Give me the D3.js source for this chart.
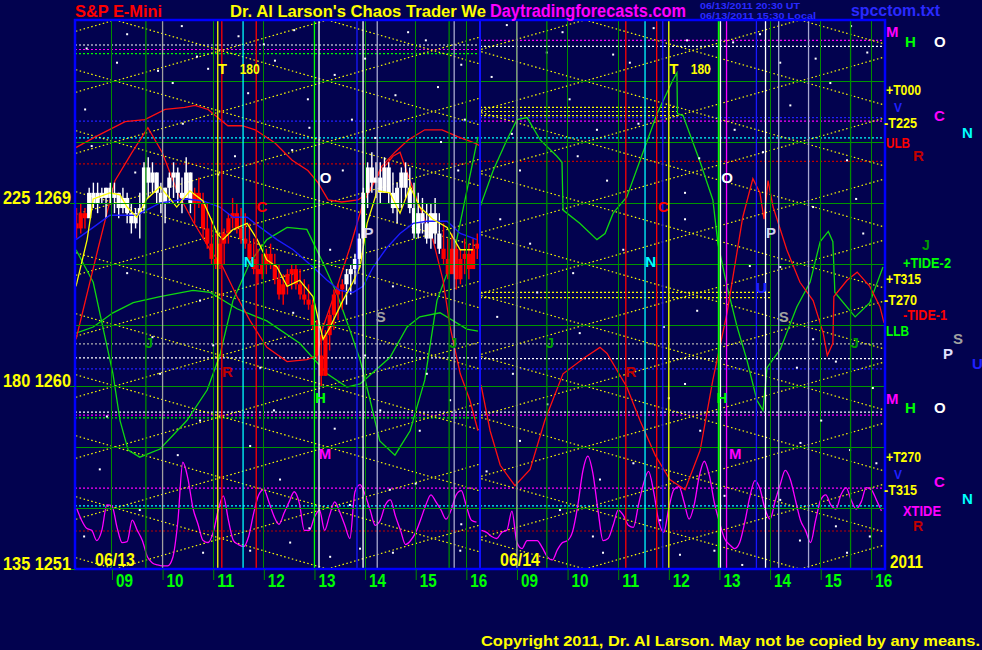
<!DOCTYPE html>
<html><head><meta charset="utf-8">
<script src="https://cdn.jsdelivr.net/npm/d3@7"></script>
<style>html,body{margin:0;padding:0;background:#02024f;overflow:hidden}svg{display:block}</style>
</head><body><svg id="c" width="982" height="650"></svg>
<script>
// ---------------- DATA ----------------
const dayLabels = ["06/13", "06/14"];
const SESSION_OPEN = 8.27, SESSION_CLOSE = 16.27, HOURS_PER_DAY = 8;
const hourTicks = [9, 10, 11, 12, 13, 14, 15, 16];
const hourTickLabels = ["09", "10", "11", "12", "13", "14", "15", "16"];
const priceTicks = [1269, 1260, 1251];
const degreeTicks = [225, 180, 135];
const gridPrices = [1254, 1257, 1260, 1263, 1266, 1269, 1272, 1275];
const latticeRows = [1251, 1254, 1257, 1260, 1263, 1266, 1269, 1272, 1275, 1278];
const latticeCols = [[4.87, 9.06, 13.25, 17.44], [6.09, 10.34, 14.59, 18.84]];

// 5-minute bars, day 1
const barStart = 8.30, barStep = 1 / 12;
const barHigh = [1268.75,1269.0,1268.75,1269.75,1270.0,1270.0,1269.75,1269.75,1270.0,1270.0,
 1269.5,1269.75,1269.5,1269.0,1268.75,1269.5,1271.0,1271.25,1271.0,1270.5,
 1270.0,1269.75,1270.5,1271.0,1270.75,1270.25,1271.25,1270.5,1269.75,1270.25,
 1269.5,1269.0,1268.25,1267.5,1267.25,1267.75,1268.5,1269.25,1269.0,1268.75,
 1268.5,1268.0,1267.25,1266.75,1266.5,1266.75,1267.0,1266.5,1266.0,1265.5,
 1265.75,1266.0,1266.0,1265.75,1265.25,1265.0,1264.25,1263.25,1262.5,1262.75,
 1263.75,1264.75,1265.0,1265.25,1265.75,1266.0,1266.5,1267.5,1269.75,1271.0,
 1271.5,1271.0,1271.0,1271.25,1271.0,1270.5,1270.0,1270.75,1271.0,1270.75,
 1270.0,1269.5,1269.25,1269.0,1269.0,1269.25,1268.5,1268.0,1267.25,1267.5,
 1267.0,1266.75,1267.25,1267.0,1267.25,1267.5];
const barLow = [1267.25,1267.5,1267.75,1268.5,1268.75,1268.5,1269.0,1268.25,1269.0,1268.5,
 1268.25,1268.5,1268.0,1267.5,1267.75,1267.25,1268.5,1269.25,1269.5,1269.0,
 1268.5,1268.0,1269.0,1269.25,1269.0,1268.5,1269.25,1268.5,1268.0,1268.75,
 1267.25,1266.75,1266.0,1265.75,1265.75,1266.0,1267.0,1267.75,1267.5,1267.0,
 1266.75,1266.0,1265.5,1265.0,1265.25,1265.5,1265.75,1265.0,1264.25,1264.0,
 1264.5,1264.75,1264.75,1264.25,1264.0,1263.75,1262.75,1261.25,1260.0,1260.5,
 1261.75,1262.75,1263.25,1263.75,1264.0,1264.5,1265.0,1265.75,1267.0,1268.75,
 1269.5,1269.25,1269.0,1269.5,1269.0,1268.5,1268.0,1268.75,1269.25,1268.5,
 1267.25,1267.25,1267.5,1267.0,1266.75,1267.0,1266.5,1266.0,1265.25,1265.75,
 1264.75,1265.0,1265.5,1265.25,1266.0,1266.25];
const barClose = [1267.75,1268.5,1268.25,1269.5,1269.0,1269.5,1269.25,1269.75,1269.25,1269.5,
 1268.75,1269.25,1268.5,1268.0,1268.5,1268.75,1270.75,1270.0,1270.5,1269.5,
 1269.0,1269.75,1270.25,1270.5,1269.5,1269.25,1270.5,1269.0,1269.5,1269.0,
 1267.75,1267.0,1266.25,1266.0,1267.0,1267.5,1268.25,1268.5,1267.75,1267.25,
 1267.0,1266.25,1265.75,1265.5,1266.0,1266.5,1266.0,1265.25,1264.5,1265.0,
 1265.5,1265.75,1265.0,1264.5,1264.25,1264.0,1263.0,1261.5,1260.5,1262.5,
 1263.5,1264.5,1264.75,1265.0,1265.5,1265.75,1266.25,1267.25,1269.5,1270.75,
 1270.0,1270.25,1269.5,1270.75,1269.5,1268.75,1269.75,1270.5,1269.75,1268.75,
 1267.5,1268.5,1268.0,1267.25,1268.5,1267.5,1266.75,1266.25,1265.5,1266.75,
 1265.25,1266.25,1266.5,1265.75,1266.75,1267.0];
const barOpen0 = 1268.0;
const barTrend = "rrrwwwwwwwwwwwwwwwwwwwwwwwwwrrrrrrrrrrrrrrrrrrrrrrrrrrrrrrrrrrrrwwwwwwwwwwwwwwwwwwwwwwwrrrrrrrrr";

// day 1 indicators [hour, price]
const fastLine = [[8.29,1264.9],[8.51,1267.2],[8.63,1269.2],[8.96,1269.5],[9.16,1269.4],[9.30,1268.8],[9.49,1268.3],[9.69,1269.2],[9.95,1269.8],[10.15,1269.2],[10.28,1268.8],[10.54,1269.6],[10.80,1269.1],[11.08,1267.5],[11.19,1267.2],[11.39,1267.7],[11.67,1268.0],[11.87,1267.2],[12.06,1266.2],[12.26,1265.85],[12.46,1264.9],[12.71,1265.2],[12.97,1264.4],[13.17,1262.3],[13.31,1262.9],[13.56,1264.2],[13.76,1265.1],[13.90,1265.85],[14.04,1268.0],[14.24,1269.6],[14.49,1269.5],[14.69,1268.5],[14.89,1269.8],[15.08,1268.8],[15.34,1268.2],[15.62,1267.8],[15.88,1266.7],[16.13,1266.7]];
const slowLine = [[8.29,1267.2],[8.63,1267.8],[8.96,1268.4],[9.49,1268.4],[9.95,1269.0],[10.48,1269.2],[10.80,1269.1],[11.13,1268.8],[11.39,1268.3],[11.67,1268.3],[11.93,1267.8],[12.26,1267.2],[12.58,1266.7],[12.97,1265.85],[13.25,1265.2],[13.50,1264.7],[13.76,1264.6],[13.96,1264.9],[14.16,1265.85],[14.43,1266.8],[14.69,1267.5],[14.95,1268.0],[15.22,1268.1],[15.62,1268.1],[15.88,1267.5],[16.21,1267.2]];

// forecast curves
const redUpper1 = [[8.27,1271.7],[8.67,1272.25],[9.26,1273.0],[9.65,1273.1],[10.05,1273.6],[10.44,1273.7],[10.64,1273.8],[10.90,1273.6],[11.09,1273.2],[11.29,1272.8],[11.57,1272.8],[11.83,1272.6],[12.22,1271.95],[12.56,1271.1],[12.87,1270.6],[13.07,1270.0],[13.27,1269.15],[13.54,1269.05],[13.86,1269.15],[14.06,1269.5],[14.33,1270.8],[14.59,1271.5],[14.85,1272.1],[15.18,1272.6],[15.52,1272.6],[15.84,1272.25],[16.17,1271.95],[16.27,1271.8]];
const redSwing1 = [[8.29,1262.3],[8.72,1266.7],[9.06,1270.1],[9.40,1271.5],[9.71,1272.7],[9.99,1271.5],[10.30,1269.5],[10.60,1268.1],[10.94,1266.7],[11.19,1265.85],[11.47,1264.4],[11.73,1263.2],[12.06,1261.9],[12.46,1261.2],[12.85,1261.3],[13.05,1261.5],[13.17,1262.9],[13.45,1264.9],[13.70,1266.8],[13.96,1269.0],[14.29,1270.5],[14.55,1271.3],[14.69,1271.5],[14.83,1270.5],[15.08,1268.8],[15.34,1267.2],[15.54,1265.2],[15.68,1262.9],[15.88,1260.6],[16.07,1259.3],[16.23,1257.8]];
const redSwing2 = [[8.29,1260.05],[8.47,1257.8],[8.67,1256.1],[8.96,1255.1],[9.26,1255.9],[9.55,1258.3],[9.91,1260.6],[10.34,1261.4],[10.64,1261.9],[10.78,1261.6],[11.17,1259.95],[11.43,1258.3],[11.73,1256.6],[12.02,1255.4],[12.32,1254.9],[12.62,1256.85],[12.87,1260.3],[13.15,1263.6],[13.46,1268.3],[13.66,1270.2],[13.80,1269.5],[13.88,1268.2],[13.96,1270.1],[14.06,1268.8],[14.33,1266.7],[14.59,1265.1],[14.85,1264.2],[15.05,1262.6],[15.13,1261.5],[15.24,1262.1],[15.26,1264.4],[15.52,1265.2],[15.72,1265.6],[15.97,1264.9],[16.17,1263.9],[16.25,1263.1]];
const greenA1 = [[8.29,1266.7],[8.63,1265.1],[8.82,1262.9],[9.02,1260.6],[9.16,1258.3],[9.32,1256.85],[9.55,1256.5],[9.95,1256.9],[10.48,1258.3],[10.88,1259.8],[11.13,1261.5],[11.39,1264.2],[11.73,1266.1],[12.06,1267.2],[12.46,1267.8],[12.85,1267.7],[13.17,1266.05],[13.45,1264.5],[13.70,1262.75],[13.90,1261.3],[14.10,1259.3],[14.29,1257.3],[14.59,1256.6],[14.89,1257.8],[15.18,1260.3],[15.42,1264.2],[15.74,1266.35],[16.01,1269.6],[16.23,1272.25]];
const greenB1 = [[8.29,1262.6],[8.63,1262.9],[9.02,1263.6],[9.42,1264.1],[9.95,1264.4],[10.60,1264.7],[10.94,1264.6],[11.47,1263.8],[12.06,1263.2],[12.71,1262.1],[13.25,1260.6],[13.64,1259.95],[13.90,1260.1],[14.49,1261.4],[14.83,1262.9],[15.08,1263.4],[15.48,1263.6],[16.01,1262.8],[16.23,1262.7]];
const greenA2 = [[8.27,1268.8],[8.53,1270.6],[8.80,1272.1],[9.00,1273.1],[9.20,1273.2],[9.46,1272.1],[9.79,1271.3],[9.89,1271.0],[9.91,1268.65],[10.24,1268.0],[10.58,1267.2],[10.74,1267.5],[10.90,1268.5],[11.17,1269.3],[11.49,1271.5],[11.77,1273.4],[12.08,1275.05],[12.16,1275.4],[12.17,1273.4],[12.28,1273.3],[12.62,1271.0],[12.87,1269.15],[12.97,1267.0],[13.15,1264.9],[13.35,1262.9],[13.54,1261.3],[13.74,1259.3],[13.86,1258.8],[13.94,1260.9],[14.20,1261.8],[14.53,1263.9],[14.79,1265.1],[14.99,1267.1],[15.15,1267.6],[15.24,1267.1],[15.28,1264.6],[15.68,1263.4],[15.97,1264.1],[16.23,1265.85]];

// XTIDE, sampled every 0.1 h from 8.3
const XTIDE_START = 8.3, XTIDE_STEP = 0.1;
const xtide1 = [1254.0,1253.4,1253.0,1252.9,1252.4,1252.9,1254.15,1254.1,1253.05,1252.3,
 1252.35,1253.4,1252.9,1252.4,1251.6,1251.3,1251.2,1251.15,1251.15,1251.55,
 1253.3,1256.25,1255.45,1254.0,1253.2,1252.4,1252.3,1252.8,1253.9,1254.6,
 1253.4,1252.4,1252.2,1252.1,1252.6,1253.75,1254.65,1254.9,1254.3,1253.6,
 1253.2,1253.75,1254.3,1254.8,1254.25,1252.9,1252.9,1253.55,1253.9,1252.9,
 1253.65,1254.3,1253.8,1253.15,1252.5,1254.8,1255.15,1254.65,1253.9,1253.15,
 1253.4,1254.15,1254.4,1253.6,1252.9,1252.2,1252.4,1252.8,1253.45,1254.15,
 1254.65,1254.3,1253.9,1253.45,1253.9,1254.65,1254.85,1254.1,1253.4,1253.3];
const xtide2 = [1252.9,1252.8,1252.6,1252.5,1252.8,1252.9,1253.85,1252.3,1252.0,1252.4,
 1252.4,1252.4,1252.05,1251.6,1251.45,1251.95,1252.3,1252.4,1252.85,1254.1,
 1255.8,1256.55,1255.7,1253.9,1252.4,1252.5,1253.15,1253.9,1253.65,1253.15,
 1253.05,1254.15,1255.2,1255.8,1254.8,1253.35,1252.8,1254.0,1254.9,1255.05,
 1254.3,1253.45,1254.15,1255.55,1256.3,1255.6,1254.25,1253.3,1252.5,1252.2,
 1252.0,1252.3,1253.3,1254.55,1255.35,1254.95,1253.95,1253.45,1254.35,1255.15,
 1255.85,1255.4,1254.4,1253.4,1252.9,1252.3,1253.4,1254.4,1254.65,1254.15,
 1253.95,1254.65,1255.0,1254.4,1253.95,1254.3,1255.0,1254.9,1254.4,1253.85];

// timing lines [day, hour, key]
const timingLines = [[0,9.67,'J'],[0,10.0,'Q'],[0,11.09,'T'],[0,11.17,'R'],[0,11.59,'N'],[0,11.85,'C'],[0,13.0,'H'],[0,13.09,'O'],[0,13.84,'U'],[0,13.96,'P'],[0,14.24,'S'],[0,15.66,'J'],[0,15.76,'S'],
 [1,9.0,'Q'],[1,9.59,'J'],[1,11.15,'R'],[1,11.53,'N'],[1,11.76,'C'],[1,11.88,'V'],[1,12.0,'T'],[1,12.98,'H'],[1,13.02,'O'],[1,13.14,'M'],[1,13.73,'U'],[1,13.91,'P'],[1,14.17,'S'],[1,14.76,'S'],[1,15.59,'J']];
// price levels [day, price, key]
const priceLevels = [[0,1276.77,'O'],[0,1276.55,'M'],[0,1276.35,'H'],[0,1273.03,'V'],[0,1272.2,'N'],[0,1270.92,'R'],[0,1262.07,'S'],[0,1261.38,'P'],[0,1260.84,'U'],[0,1258.72,'O'],[0,1258.57,'M'],[0,1258.43,'H'],[0,1254.98,'C'],[0,1254.1,'N'],[0,1252.87,'R'],
 [1,1277.0,'M'],[1,1276.7,'O'],[1,1273.2,'V'],[1,1273.03,'C'],[1,1272.2,'N'],[1,1271.05,'R'],[1,1262.07,'S'],[1,1261.35,'P'],[1,1260.84,'U'],[1,1258.72,'O'],[1,1258.57,'M'],[1,1254.98,'C'],[1,1254.1,'N'],[1,1252.87,'R']];
// T-lines [day, price, fromHour, toHour]
const tLines = [[1,1273.7,8.27,12.2],[1,1273.5,8.27,12.2],[1,1273.3,8.27,12.2],[1,1264.6,8.27,14.0],[1,1264.35,8.27,14.0]];
// in-chart event letters [day, hour, price, text]
const eventLabels = [[0,11.18,1275.34,'T'],[0,11.72,1275.34,'180'],[0,13.22,1269.98,'O'],[0,11.96,1268.56,'C'],[0,11.71,1265.85,'N'],[0,14.07,1267.28,'P'],[0,14.31,1263.14,'S'],[0,11.28,1260.44,'R'],[0,9.73,1261.87,'J'],[0,15.74,1261.87,'J'],[0,13.12,1259.16,'H'],[0,13.21,1256.41,'M'],
 [1,12.10,1275.34,'T'],[1,12.63,1275.34,'180'],[1,13.15,1269.98,'O'],[1,11.89,1268.56,'C'],[1,11.64,1265.85,'N'],[1,14.02,1267.28,'P'],[1,13.83,1264.57,'U'],[1,14.27,1263.14,'S'],[1,11.25,1260.44,'R'],[1,9.65,1261.87,'J'],[1,15.67,1261.87,'J'],[1,13.05,1259.16,'H'],[1,13.31,1256.41,'M']];
// background points [day, hour, price]
const stars = [[0,9.30,1277.3],[0,10.38,1277.7],[0,10.68,1276.2],[0,9.91,1275.5],[0,8.47,1273.6],[0,12.22,1276.0],[0,12.87,1274.1],[0,13.74,1273.1],[0,14.85,1277.4],[0,15.44,1274.7],[0,15.97,1273.1],[0,11.69,1274.4],[0,12.56,1271.6],[0,14.20,1272.2],[0,11.43,1271.3],[0,9.46,1270.5],[0,15.84,1270.6],[0,9.30,1265.55],[0,9.95,1260.6],[0,12.58,1263.6],[0,14.55,1264.9],[0,15.22,1260.6],[0,11.93,1260.9],[0,13.56,1270.6],[0,10.80,1251.8],[0,11.73,1251.9],[0,12.52,1252.3],[0,13.31,1251.6],[0,13.90,1252.0],[0,14.55,1251.8],[0,15.88,1251.9],[0,8.76,1255.9],[0,10.74,1258.3],[0,12.32,1255.4],[0,13.70,1254.15],[0,15.08,1257.8],[0,9.55,1253.9],[0,11.73,1257.05],[0,14.49,1254.9],[0,10.74,1264.2],[0,13.31,1266.7],[0,15.68,1259.3],
 [0,8.5,1276.6],[0,9.1,1275.9],[0,10.2,1274.9],[0,10.9,1275.6],[0,11.5,1277.2],[0,12.0,1276.8],[0,12.6,1277.5],[0,13.4,1275.3],[0,14.0,1276.1],[0,14.6,1274.3],[0,15.2,1277.0],[0,15.9,1275.8],[0,8.6,1271.8],[0,10.4,1272.9],[0,11.1,1270.4],[0,12.9,1272.7],[0,14.7,1270.1],[0,15.5,1272.0],[0,8.9,1258.5],[0,9.8,1262.4],[0,11.0,1262.0],[0,12.2,1258.8],[0,13.4,1257.9],[0,14.0,1261.5],[0,15.0,1255.2],[0,15.9,1253.2],[0,8.45,1252.6],[0,10.3,1256.6],[0,12.9,1253.0],[0,14.3,1258.8],
 [1,8.80,1277.75],[1,9.59,1276.4],[1,10.04,1274.1],[1,10.58,1272.6],[1,11.23,1275.9],[1,12.36,1277.0],[1,13.27,1276.9],[1,14.20,1275.9],[1,15.19,1274.9],[1,15.92,1276.4],[1,9.06,1270.6],[1,10.78,1270.1],[1,13.86,1271.5],[1,15.52,1271.1],[1,14.85,1268.8],[1,12.32,1269.5],[1,8.67,1268.2],[1,9.26,1267.0],[1,10.11,1265.55],[1,12.32,1268.2],[1,14.20,1265.85],[1,15.84,1267.5],[1,8.61,1263.4],[1,10.24,1262.6],[1,12.56,1263.7],[1,14.85,1262.3],[1,8.92,1260.6],[1,12.32,1260.1],[1,14.53,1260.9],[1,16.03,1259.9],[1,10.70,1251.8],[1,12.22,1251.7],[1,13.45,1251.2],[1,14.59,1252.4],[1,15.52,1251.8],[1,15.97,1252.6],[1,9.06,1257.3],[1,10.64,1255.4],[1,12.62,1257.8],[1,14.20,1254.4],[1,15.58,1256.85],[1,9.85,1253.9],[1,11.83,1253.4],[1,15.01,1258.3],
 [1,8.5,1275.2],[1,9.9,1277.4],[1,10.9,1276.3],[1,11.7,1277.6],[1,12.8,1275.6],[1,13.8,1277.3],[1,14.9,1276.1],[1,15.6,1277.7],[1,8.9,1272.4],[1,10.2,1271.3],[1,11.4,1272.9],[1,12.6,1271.2],[1,13.3,1272.6],[1,14.4,1273.8],[1,15.7,1269.2],[1,9.4,1264.6],[1,11.1,1266.7],[1,11.9,1262.9],[1,13.6,1265.9],[1,15.3,1261.2],[1,8.4,1255.8],[1,9.6,1259.1],[1,11.3,1256.2],[1,12.0,1259.4],[1,13.1,1254.6],[1,14.6,1257.2],[1,15.3,1253.1],[1,16.1,1256.2],[1,10.5,1252.6],[1,12.9,1251.9]];

// ---------------- STYLE MAPS ----------------
const BG = "#02024f";
const lineColor = {T:"#ffff00",R:"#ff0000",C:"#ff0000",N:"#00ffff",H:"#00ff00",O:"#ffffff",U:"#1818ff",V:"#1818ff",P:"#ffffff",S:"#a8a8d0",M:"#ff00ff",J:"#008c00",Q:"#a0a0a0"};
const levelColor = {O:"#ffffff",M:"#ff00ff",H:"#00ff00",V:"#2020ff",C:"#ff00ff",N:"#00ffff",R:"#c00000",S:"#b0b0b0",P:"#ffffff",U:"#2020ff"};
const labelColor = {T:"#ffff00","180":"#ffff00",O:"#ffffff",C:"#ff0000",N:"#00ffff",P:"#d0d0f0",S:"#a0a0a0",R:"#c00000",J:"#009a00",H:"#00ff00",M:"#ff00ff",U:"#2020ff"};
const FONT = "'Liberation Sans', Arial, sans-serif";

// ---------------- SCALES ----------------
const svg = d3.select("#c");
const xS = d3.scaleLinear().domain([0, 2 * HOURS_PER_DAY]).range([75, 885]);
const yS = d3.scaleLinear().domain([1251, 1278]).range([569, 20]);
const X = (d, h) => xS(d * HOURS_PER_DAY + h - SESSION_OPEN);
const yTop = yS(1278), yBot = yS(1251);

svg.append("rect").attr("width", 982).attr("height", 650).attr("fill", BG);
const defs = svg.append("defs");
[0, 1].forEach(d => {
  defs.append("clipPath").attr("id", "clip" + d).append("rect")
    .attr("x", X(d, SESSION_OPEN)).attr("y", yTop)
    .attr("width", X(d, SESSION_CLOSE) - X(d, SESSION_OPEN)).attr("height", yBot - yTop);
});
const dayG = [0, 1].map(d => svg.append("g").attr("clip-path", `url(#clip${d})`));

function text(x, y, s, fill, size, len, anchor) {
  const t = svg.append("text").attr("x", x).attr("y", y).text(s).attr("fill", fill)
    .attr("font-size", size).attr("font-weight", "bold").attr("font-family", FONT)
    .attr("text-anchor", anchor || "start");
  if (len) t.attr("textLength", len).attr("lengthAdjust", "spacingAndGlyphs");
  return t;
}

// ---------------- GRID ----------------
const grid = svg.append("g").attr("shape-rendering", "crispEdges");
gridPrices.forEach(p => grid.append("line").attr("x1", 75).attr("x2", 885)
  .attr("y1", yS(p)).attr("y2", yS(p)).attr("stroke", "#009600").attr("stroke-width", 1));
[0, 1].forEach(d => hourTicks.forEach(h => grid.append("line")
  .attr("x1", X(d, h)).attr("x2", X(d, h)).attr("y1", yTop).attr("y2", yBot)
  .attr("stroke", "#008c00").attr("stroke-width", 1)));

// ---------------- LEVELS ----------------
priceLevels.forEach(([d, p, k]) => dayG[d].append("line")
  .attr("x1", X(d, SESSION_OPEN)).attr("x2", X(d, SESSION_CLOSE))
  .attr("y1", yS(p)).attr("y2", yS(p)).attr("stroke", levelColor[k])
  .attr("stroke-width", 1.2).attr("stroke-dasharray", "2,2"));
tLines.forEach(([d, p, h0, h1]) => dayG[d].append("line")
  .attr("x1", X(d, h0)).attr("x2", X(d, h1)).attr("y1", yS(p)).attr("y2", yS(p))
  .attr("stroke", "#ffff00").attr("stroke-width", 1.2).attr("stroke-dasharray", "2,2"));

// ---------------- LATTICE ----------------
[0, 1].forEach(d => {
  const cols = latticeCols[d];
  for (let k = 0; k < cols.length - 1; k++) {
    for (let m = 0; m < latticeRows.length - 1; m++) {
      [[latticeRows[m], latticeRows[m + 1]], [latticeRows[m + 1], latticeRows[m]]].forEach(([a, b]) => {
        dayG[d].append("line").attr("x1", X(d, cols[k])).attr("y1", yS(a))
          .attr("x2", X(d, cols[k + 1])).attr("y2", yS(b))
          .attr("stroke", "#ffff00").attr("stroke-width", 1.2).attr("stroke-dasharray", "1.5,2.5");
      });
    }
  }
});

// ---------------- STARS ----------------
svg.append("g").selectAll("rect").data(stars).join("rect")
  .attr("x", s => X(s[0], s[1]) - 1).attr("y", s => yS(s[2]) - 1)
  .attr("width", 2).attr("height", 2).attr("fill", "#ffffff");

// ---------------- TIMING LINES ----------------
timingLines.forEach(([d, h, k]) => svg.append("line")
  .attr("x1", X(d, h)).attr("x2", X(d, h)).attr("y1", yTop).attr("y2", yBot)
  .attr("stroke", lineColor[k]).attr("stroke-width", 1.3));

// ---------------- CURVES ----------------
function curve(d, pts, color, w, cv) {
  const gen = d3.line().x(p => X(d, p[0])).y(p => yS(p[1])).curve(cv || d3.curveLinear);
  dayG[d].append("path").attr("d", gen(pts)).attr("fill", "none")
    .attr("stroke", color).attr("stroke-width", w);
}
const tidePts = arr => arr.map((v, i) => [XTIDE_START + i * XTIDE_STEP, v]);
curve(0, tidePts(xtide1), "#ff00ff", 1.3, d3.curveMonotoneX);
curve(1, tidePts(xtide2), "#ff00ff", 1.3, d3.curveMonotoneX);
curve(0, greenB1, "#10d810", 1.3);
curve(0, greenA1, "#10d810", 1.3);
curve(1, greenA2, "#10d810", 1.3);
curve(0, redUpper1, "#ff1010", 1.3);
curve(0, redSwing1, "#ff1010", 1.3);
curve(1, redSwing2, "#ff1010", 1.3);

// ---------------- BARS ----------------
const barsG = dayG[0].append("g");
barHigh.forEach((hi, i) => {
  const t = barStart + i * barStep, x = X(0, t);
  const op = i === 0 ? barOpen0 : barClose[i - 1], cl = barClose[i];
  const col = barTrend[i] === "w" ? "#ffffff" : "#ff0000";
  barsG.append("line").attr("x1", x).attr("x2", x).attr("y1", yS(hi)).attr("y2", yS(barLow[i]))
    .attr("stroke", col).attr("stroke-width", 1.4);
  const yA = yS(Math.max(op, cl)), yB = yS(Math.min(op, cl));
  barsG.append("rect").attr("x", x - 2.1).attr("y", yA).attr("width", 4.2)
    .attr("height", Math.max(3, yB - yA)).attr("fill", col);
});
curve(0, slowLine, "#1a1aff", 1.4);
curve(0, fastLine, "#ffff00", 1.3);

// ---------------- EVENT LABELS ----------------
eventLabels.forEach(([d, h, p, s]) => {
  text(X(d, h), yS(p), s, labelColor[s], 15, s === "180" ? 20 : null, "middle");
});

// ---------------- FRAME ----------------
svg.append("line").attr("x1", X(0, SESSION_CLOSE)).attr("x2", X(0, SESSION_CLOSE))
  .attr("y1", yTop).attr("y2", yBot).attr("stroke", "#1010ff").attr("stroke-width", 2);
svg.append("rect").attr("x", 75).attr("y", yTop).attr("width", 810).attr("height", yBot - yTop)
  .attr("fill", "none").attr("stroke", "#0000ff").attr("stroke-width", 2.5);

// ---------------- AXES ----------------
[0, 1].forEach(d => {
  const hs = d3.scaleLinear().domain([SESSION_OPEN, SESSION_CLOSE]).range([X(d, SESSION_OPEN), X(d, SESSION_CLOSE)]);
  const ax = svg.append("g").attr("transform", `translate(0,${yBot})`)
    .call(d3.axisBottom(hs).tickValues(hourTicks).tickFormat((v, i) => hourTickLabels[i]).tickSize(11));
  ax.select(".domain").remove();
  ax.selectAll(".tick line").attr("stroke", "#008c00").attr("stroke-width", 1);
  ax.selectAll(".tick text").attr("x", 12).attr("y", 18).attr("dy", 0)
    .attr("fill", "#00ff00").attr("font-size", 19).attr("font-weight", "bold")
    .attr("font-family", FONT).attr("textLength", 17).attr("lengthAdjust", "spacingAndGlyphs");
  text(X(d, SESSION_OPEN) + 20, 566, dayLabels[d], "#ffff00", 19, 40);
});
const ay = svg.append("g").attr("transform", "translate(75,0)")
  .call(d3.axisLeft(yS).tickValues(priceTicks).tickFormat((v, i) => degreeTicks[i] + " " + v).tickSize(5));
ay.select(".domain").remove();
ay.selectAll(".tick line").attr("stroke", "#009600");
ay.selectAll(".tick text").attr("x", -4).attr("dy", 0).attr("fill", "#ffff00")
  .attr("font-size", 19).attr("font-weight", "bold").attr("font-family", FONT)
  .attr("textLength", 68).attr("lengthAdjust", "spacingAndGlyphs");

// ---------------- TITLES ----------------
text(75, 17, "S&P E-Mini", "#ff0000", 17, 87);
text(230, 17, "Dr. Al Larson's Chaos Trader We", "#ffff00", 17, 256);
text(490, 17, "Daytradingforecasts.com", "#ff00ff", 18, 196);
text(700, 9, "06/13/2011 20:30 UT", "#2a2aff", 9.5, 100);
text(700, 19, "06/13/2011 15:30 Local", "#2a2aff", 9.5, 116);
text(851, 16, "spcctom.txt", "#2a2aff", 17, 89);
text(481, 646, "Copyright 2011, Dr. Al Larson. May not be copied by any means.", "#ffff00", 15, 499);
text(890, 568, "2011", "#ffff00", 18, 33);

// ---------------- RIGHT LEGEND ----------------
[["M","#ff00ff",886,37],["H","#00ff00",905,47],["O","#ffffff",934,47],["+T000","#ffff00",886,95,35],
 ["V","#2020ff",894,112,null,12],["-T225","#ffff00",884,128,33],["C","#ff00ff",934,121],["N","#00ffff",962,138],
 ["ULB","#ff0000",886,148,24],["R","#c00000",913,161],["J","#009a00",922,250,null,14],["+TIDE-2","#00ff00",903,268,48],
 ["+T315","#ffff00",886,284,35],["-T270","#ffff00",884,305,33],["-TIDE-1","#ff0000",903,320,44],
 ["LLB","#00ff00",886,336,23],["S","#a0a0a0",953,344],["P","#e0e0ff",943,359],["U","#2020ff",972,369],
 ["M","#ff00ff",886,404],["H","#00ff00",905,413],["O","#ffffff",934,413],["+T270","#ffff00",886,462,35],
 ["V","#2020ff",894,479,null,12],["-T315","#ffff00",884,495,33],["C","#ff00ff",934,487],["N","#00ffff",962,504],
 ["XTIDE","#ff00ff",903,516,38],["R","#c00000",913,531,null,14]
].forEach(([s, c, x, y, len, size]) => text(x, y, s, c, size || 15, len || null));
</script></body></html>
